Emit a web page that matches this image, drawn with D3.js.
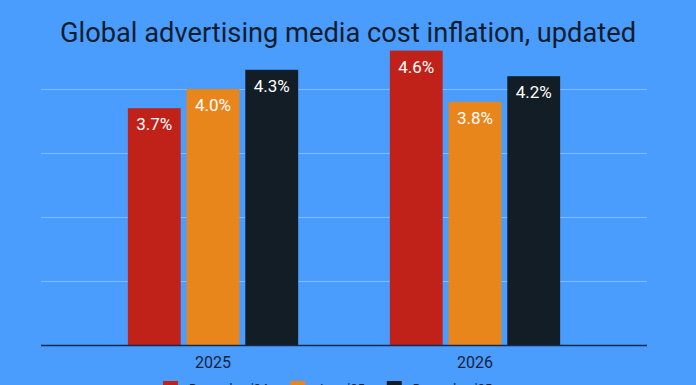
<!DOCTYPE html>
<html>
<head>
<meta charset="utf-8">
<script src="https://cdn.jsdelivr.net/npm/d3@7"></script>
<style>
html,body{margin:0;padding:0;background:#4a9cfd;overflow:hidden;}
svg{display:block;}
</style>
</head>
<body>
<svg id="chart" width="696" height="385"></svg>
<script>
const title = "Global advertising media cost inflation, updated";
const categories = ["2025", "2026"];
const seriesNames = ["December '24", "June '25", "December '25"];
const seriesColors = ["#c0221a", "#e8861c", "#131d25"];
const decValues24 = [3.7, 4.6];
const midValues25 = [4.0, 3.8];
const decValues25 = [4.3, 4.2];
const gridTicks = [0, 1, 2, 3, 4];

const series = [decValues24, midValues25, decValues25];
const W = 696, H = 385;
const svg = d3.select("#chart");
svg.append("rect").attr("width", W).attr("height", H).attr("fill", "#4a9cfd");

const plotLeft = 41, plotRight = 647;
const y = d3.scaleLinear().domain([0, 5]).range([345, 25]);
const x0 = d3.scaleBand().domain(categories).range([82, 606]).paddingInner(0.35).paddingOuter(0.175);
const x1 = d3.scaleBand().domain(d3.range(series.length)).range([0, x0.bandwidth()]).paddingInner(0.1);

// gridlines
svg.append("g").selectAll("line").data(gridTicks.filter(d => d > 0)).join("line")
  .attr("x1", plotLeft).attr("x2", plotRight)
  .attr("y1", d => y(d) + 0.5).attr("y2", d => y(d) + 0.5)
  .attr("stroke", "#86bcff").attr("stroke-width", 1);

// bars
const groups = svg.append("g").selectAll("g").data(categories).join("g")
  .attr("transform", d => `translate(${x0(d)},0)`);
groups.each(function(cat, ci) {
  const g = d3.select(this);
  series.forEach((vals, si) => {
    const v = vals[ci];
    g.append("rect")
      .attr("x", x1(si)).attr("width", x1.bandwidth())
      .attr("y", y(v)).attr("height", y(0) - y(v))
      .attr("fill", seriesColors[si]);
    g.append("text")
      .attr("x", x1(si) + x1.bandwidth() / 2)
      .attr("y", y(v) + 22)
      .attr("text-anchor", "middle")
      .attr("font-family", "Roboto, sans-serif")
      .attr("font-size", 17)
      .attr("fill", "#ffffff")
      .text(v.toFixed(1) + "%");
  });
});

// baseline axis
const xAxis = d3.axisBottom(x0).tickSize(0).tickPadding(12);
const ax = svg.append("g").attr("transform", `translate(0,${y(0)})`).call(xAxis);
ax.select(".domain").remove();
ax.selectAll("text").attr("font-family", "Roboto, sans-serif").attr("font-size", 16).attr("fill", "#13233b");
svg.append("line").attr("x1", plotLeft).attr("x2", plotRight)
  .attr("y1", y(0) + 0.5).attr("y2", y(0) + 0.5)
  .attr("stroke", "#142a4c").attr("stroke-width", 1.5);

// title
svg.append("text")
  .attr("x", W / 2).attr("y", 42)
  .attr("text-anchor", "middle")
  .attr("font-family", "Roboto, sans-serif")
  .attr("font-size", 27)
  .attr("fill", "#0f1d2e")
  .attr("textLength", 576)
  .attr("lengthAdjust", "spacingAndGlyphs")
  .text(title);

// legend (partly below the bottom edge, as in the reference)
const legend = svg.append("g").attr("transform", "translate(163,0)");
let lx = 0;
seriesNames.forEach((name, i) => {
  const item = legend.append("g").attr("transform", `translate(${lx},0)`);
  item.append("rect").attr("x", 0).attr("y", 381).attr("width", 15).attr("height", 15).attr("fill", seriesColors[i]);
  const t = item.append("text").attr("x", 26).attr("y", 393)
    .attr("font-family", "Roboto, sans-serif").attr("font-size", 13).attr("fill", "#13233b").text(name);
  lx += 26 + t.node().getComputedTextLength() + 22;
});
</script>
</body>
</html>
